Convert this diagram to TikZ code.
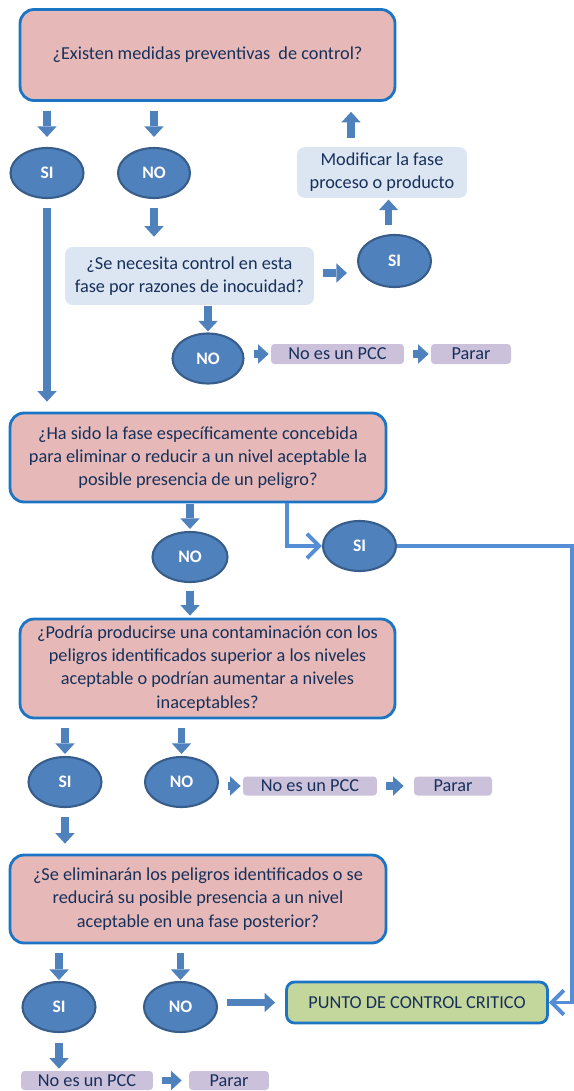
\documentclass[tikz,border=0pt]{standalone}
\usepackage{fontspec}
\setmainfont{Carlito}
\usetikzlibrary{shapes.geometric,arrows.meta}
\definecolor{rosa}{HTML}{E6B9B8}
\definecolor{borde}{HTML}{1C75C4}
\definecolor{azul}{HTML}{4F81BD}
\definecolor{azuloscuro}{HTML}{385D8A}
\definecolor{celeste}{HTML}{DCE6F2}
\definecolor{lila}{HTML}{CCC1DA}
\definecolor{verde}{HTML}{C3D69B}
\definecolor{texto}{HTML}{17305A}
\definecolor{linea}{HTML}{558ED5}
\begin{document}
\begin{tikzpicture}[x=0.02cm, y=-0.02cm,
        every node/.style={text=texto, font=\fontsize{10.4}{13.2}\selectfont, align=center},
        pregunta/.style={draw=borde, fill=rosa, line width=1.6pt, rounded corners=0.28cm, minimum width=7.5cm},
        cuadro/.style={fill=celeste, rounded corners=0.15cm},
        resp/.style={ellipse, draw=azuloscuro, fill=azul, line width=1.2pt, text=white, font=\bfseries, minimum width=1.46cm, minimum height=1cm, inner sep=0pt},
        nopcc/.style={fill=lila, rounded corners=2pt, minimum height=0.38cm, inner sep=0pt},
        flecha/.style={azul, line width=4pt, -{Triangle[width=11pt,length=6pt,line width=0pt]}, shorten <=0.18cm, shorten >=0.2cm},
        conector/.style={linea, line width=2.2pt, -{Straight Barb[length=7pt,width=14pt]}}]
        \useasboundingbox (0,0) rectangle (574,1091);

        \node[pregunta, minimum height=1.82cm] (q1) at (207.5,55) {¿Existen medidas preventivas~ de control?};
        \node[resp] (si1) at (47,173) {SI};
        \node[resp, minimum width=1.44cm] (no1) at (154,173) {NO};
        \node[cuadro, minimum width=3.4cm, minimum height=0.98cm] (mod) at (382,172.5) {Modificar la fase\\ proceso o producto};

        \node[cuadro, minimum width=4.98cm, minimum height=1.16cm] (q2) at (189.5,276) {¿Se necesita control en esta\\ fase por razones de inocuidad?};
        \node[resp, minimum height=1.04cm] (si2) at (394.5,261) {SI};
        \node[resp, minimum width=1.42cm] (no2) at (208,358.5) {NO};
        \node[nopcc, minimum width=2.66cm, minimum height=0.4cm] (pcc1) at (337.5,354) {No es un PCC};
        \node[nopcc, minimum width=1.6cm, minimum height=0.4cm] (parar1) at (471,354) {Parar};

        \node[pregunta, minimum width=7.52cm, minimum height=1.78cm] (q3) at (198,457.5) {¿Ha sido la fase específicamente concebida\\ para eliminar o reducir a un nivel aceptable la\\ posible presencia de un peligro?};
        \node[resp, minimum width=1.5cm] (no3) at (190,557) {NO};
        \node[resp] (si3) at (359.5,546) {SI};

        \node[pregunta, minimum height=1.98cm] (q4) at (207.5,668.5) {¿Podría producirse una contaminación con los\\ peligros identificados superior a los niveles\\ aceptable o podrían aumentar a niveles\\ inaceptables?};
        \node[resp] (si4) at (65,782) {SI};
        \node[resp] (no4) at (181.5,782) {NO};
        \node[nopcc, minimum width=2.68cm] (pcc2) at (310,786) {No es un PCC};
        \node[nopcc, minimum width=1.56cm] (parar2) at (453,786) {Parar};

        \node[pregunta, minimum width=7.52cm, minimum height=1.76cm] (q5) at (198,899) {¿Se eliminarán los peligros identificados o se\\ reducirá su posible presencia a un nivel\\ aceptable en una fase posterior?};
        \node[resp] (si5) at (59,1007) {SI};
        \node[resp] (no5) at (180.5,1007) {NO};
        \node[draw=borde, fill=verde, line width=1.6pt, rounded corners=0.16cm, minimum width=5.22cm, minimum height=0.82cm] (punto) at (417,1002.5) {PUNTO DE CONTROL CRITICO};
        \node[nopcc, minimum width=2.64cm] (pcc3) at (87,1080.5) {No es un PCC};
        \node[nopcc, minimum width=1.6cm] (parar3) at (229,1080.5) {Parar};
        \coordinate (esquina) at (572,546);

        \draw[flecha] (si1 |- q1.south) -- (si1.north);
        \draw[flecha] (no1 |- q1.south) -- (no1.north);
        \draw[flecha] ([xshift=-0.62cm]mod.north) -- ([xshift=-0.62cm]mod.north |- q1.south);
        \draw[flecha] (si1.south) -- (si1 |- q3.north);
        \draw[flecha] (no1.south) -- (no1 |- q2.north);
        \draw[flecha] ([yshift=0.06cm]q2.east) -- ([yshift=0.06cm]q2.east -| si2.west);
        \draw[flecha, shorten >=0.03cm] ([xshift=-0.12cm]si2.north) -- ([xshift=-0.12cm]si2.north |- mod.south);
        \draw[flecha, shorten <=0.02cm, shorten >=0.02cm] (no2 |- q2.south) -- (no2.north);
        \draw[flecha, shorten >=0.04cm] (no2.east |- pcc1.west) -- (pcc1.west);
        \draw[flecha, shorten >=0.04cm] (pcc1.east) -- (parar1.west);

        \draw[flecha, shorten <=0.02cm, shorten >=0.04cm] (no3 |- q3.south) -- (no3.north);
        \draw[conector] ([xshift=1.78cm]q3.south) |- (si3.west);
        \draw[conector] (si3.east) -- (esquina) |- (punto.east);
        \draw[flecha, shorten <=0.16cm, shorten >=0.04cm] (no3.south) -- (no3 |- q4.north);

        \draw[flecha, shorten >=0.04cm] (si4 |- q4.south) -- (si4.north);
        \draw[flecha, shorten >=0.04cm] (no4 |- q4.south) -- (no4.north);
        \draw[flecha, shorten >=0.04cm] (no4.east |- pcc2.west) -- (pcc2.west);
        \draw[flecha] (pcc2.east) -- (parar2.west);
        \draw[flecha] (si4.south) -- (si4 |- q5.north);

        \draw[flecha, shorten >=0.02cm] (si5 |- q5.south) -- (si5.north);
        \draw[flecha, shorten >=0.02cm] (no5 |- q5.south) -- (no5.north);
        \draw[flecha] (no5.east |- punto.west) -- (punto.west);
        \draw[flecha, shorten <=0.2cm, shorten >=0.04cm] (si5.south) -- (si5 |- pcc3.north);
        \draw[flecha, shorten >=0.14cm] (pcc3.east) -- (parar3.west);
    \end{tikzpicture}
\end{document}
